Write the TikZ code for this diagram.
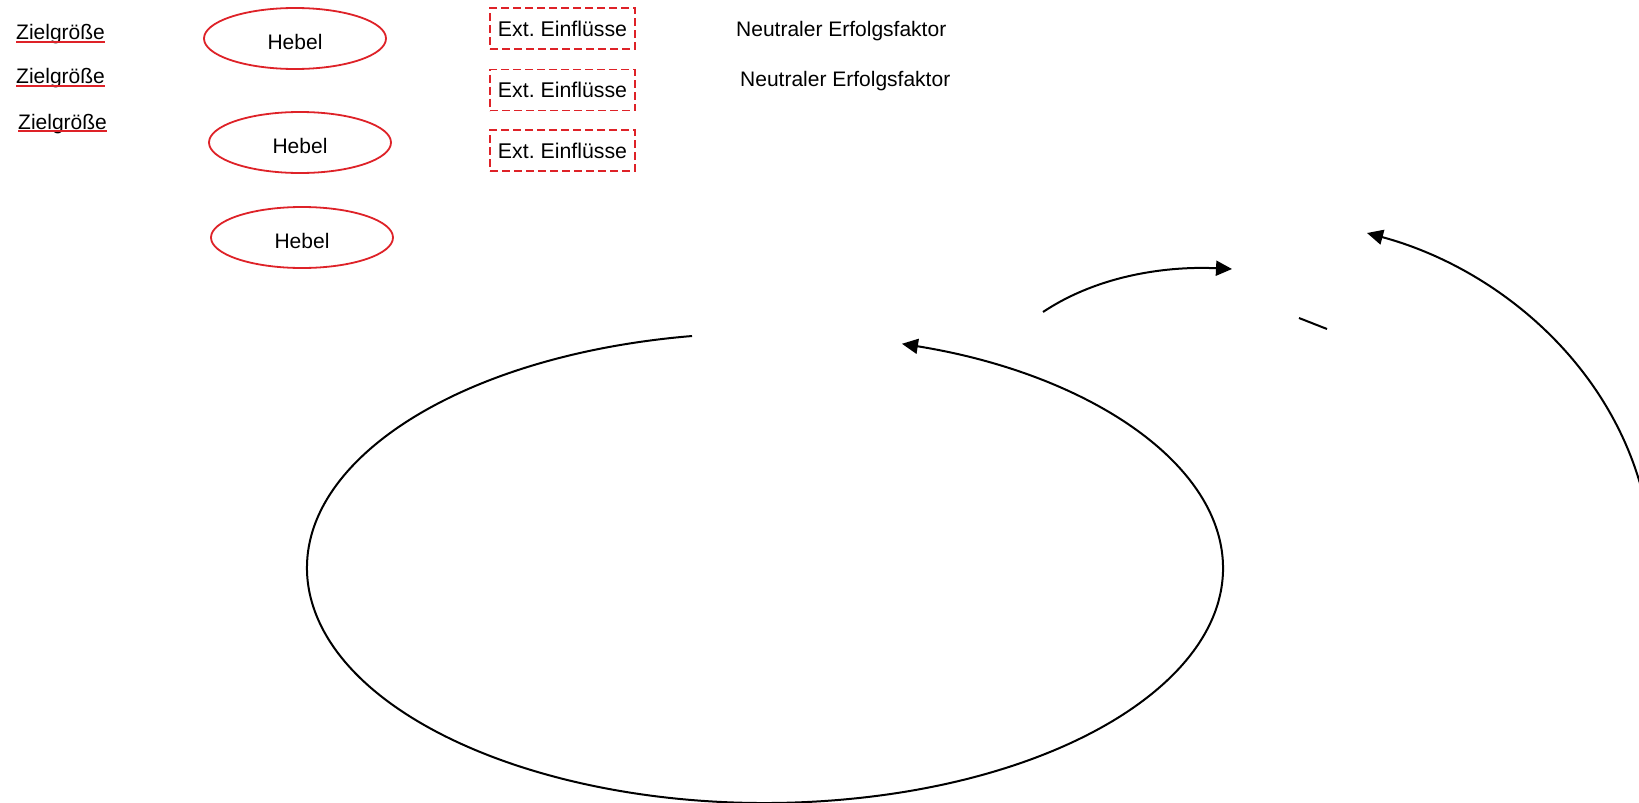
\documentclass[tikz,border=0pt]{standalone}
\usepackage{fontspec}
\setmainfont{Liberation Sans}
\usetikzlibrary{shapes.geometric,arrows.meta}
\definecolor{markred}{RGB}{222,34,40}
\frenchspacing
\begin{document}
\begin{tikzpicture}[x=1pt,y=1pt,
  lbl/.style={inner sep=0pt, anchor=base west, font=\fontsize{21}{25}\selectfont},
  lever/.style={ellipse, draw=markred, line width=1.8pt, minimum width=182pt,
    minimum height=61pt, inner sep=0pt, text height=21pt, text depth=0pt,
    font=\fontsize{21}{25}\selectfont},
  extbox/.style={draw=markred, line width=1.8pt, dash pattern=on 8pt off 4pt,
    minimum width=145pt, minimum height=41pt, inner sep=0pt,
    font=\fontsize{21.3}{25}\selectfont},
  underl/.style={draw=markred, line width=2pt},
  flow/.style={line width=2pt, -{Triangle[length=16pt,width=15pt]}}
]
\useasboundingbox (0,0) rectangle (1639,-803);

% target variables, underlined
\node[lbl] (z1) at (16,-39.3) {Zielgröße};
\node[lbl] (z2) at (16,-83.3) {Zielgröße};
\node[lbl] (z3) at (18,-129) {Zielgröße};
\foreach \n in {z1,z2,z3}
  \draw[underl] ([yshift=-2.4pt]\n.base west) -- ([yshift=-2.4pt]\n.base east);

% levers
\node[lever] (h1) at (295,-38.5) {Hebel};
\node[lever] (h2) at (300,-142.5) {Hebel};
\node[lever] (h3) at (302,-237.5) {Hebel};

% external influences
\node[extbox] (e1) at (562.5,-28.7) {Ext. Einflüsse};
\node[extbox] (e2) at (562.5,-90) {Ext. Einflüsse};
\node[extbox] (e3) at (562.5,-150.5) {Ext. Einflüsse};

% neutral success factors
\node[lbl] (n1) at (736,-36) {Neutraler Erfolgsfaktor};
\node[lbl] (n2) at (740,-86) {Neutraler Erfolgsfaktor};

% large loop
\coordinate (loopc) at (765,-568);
\draw[flow] (loopc) ++(99.17:458 and 235)
  arc[start angle=99.17, end angle=432.6, x radius=458, y radius=235];

% upper arc
\coordinate (a2s) at (1043,-312);
\coordinate (a2e) at (1232,-269);
\draw[flow] (a2s) .. controls (1100,-274) and (1170,-266) .. (a2e);

% right arc
\coordinate (a3s) at (1641,-487);
\coordinate (a3e) at (1367,-233);
\draw[flow] (a3s) .. controls (1605,-358) and (1493,-267) .. (a3e);

% short stroke
\coordinate (s1) at (1299,-318);
\coordinate (s2) at (1327,-329);
\draw[line width=2pt] (s1) -- (s2);
\end{tikzpicture}
\end{document}
